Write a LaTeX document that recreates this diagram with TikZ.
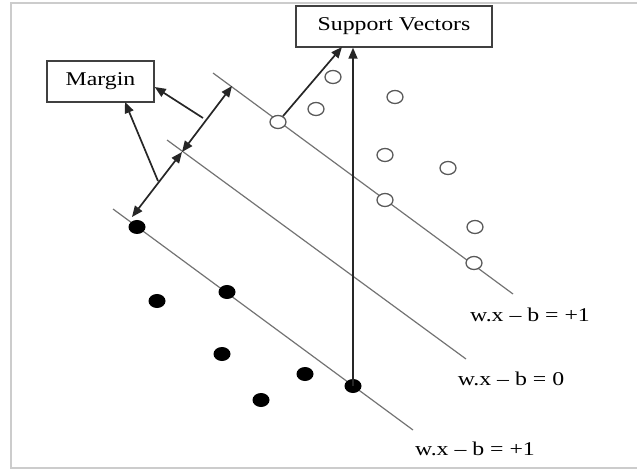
\documentclass[tikz,border=0pt]{standalone}
\usepackage{fontspec}
\usepackage{graphicx}
\setmainfont{Liberation Serif}
\usetikzlibrary{arrows.meta,shapes.geometric}
\tikzset{
  frameline/.style={draw=black!20, line width=2pt},
  hyper/.style={draw=black!55, line width=1.2pt},
  tip/.tip={Triangle[length=11pt,width=9pt]},
  arr/.style={draw=black!85, line width=1.7pt, -tip},
  darr/.style={draw=black!85, line width=1.7pt, tip-tip},
  labelbox/.style={draw=black!75, line width=1.4pt, fill=white, inner sep=0pt},
  blackpt/.style={ellipse, fill=black, minimum width=17pt, minimum height=14pt, inner sep=0pt},
  whitept/.style={ellipse, draw=black!65, line width=1.3pt, fill=white, minimum width=16pt, minimum height=13pt, inner sep=0pt},
  eqlabel/.style={inner sep=0pt, font=\fontsize{19.5}{22}\selectfont},
}
\newcommand{\wide}[1]{\scalebox{1.22}[1]{#1}}
\begin{document}
\begin{tikzpicture}[x=1pt,y=-1pt]
\useasboundingbox (0,0) rectangle (637,470);
% frame
\draw[frameline] (637,3) -- (11,3) -- (11,468) -- (637,468);
% hyperplanes
\coordinate (t1) at (213,73);  \coordinate (t2) at (513,294);
\coordinate (m1) at (167,140); \coordinate (m2) at (466,359);
\coordinate (b1) at (113,209); \coordinate (b2) at (413,430);
\draw[hyper] (t1) -- (t2);
\draw[hyper] (m1) -- (m2);
\draw[hyper] (b1) -- (b2);
% boxes
\node[labelbox, minimum width=107pt, minimum height=41pt] (margin) at (100.5,81.5) {\fontsize{19.5}{22}\selectfont\wide{Margin}};
\node[labelbox, minimum width=196pt, minimum height=41pt] (sv) at (394,26.5) {\fontsize{19.5}{22}\selectfont\wide{Support Vectors}};
% black points
\node[blackpt] (k1) at (137,227) {};
\node[blackpt] (k2) at (227,292) {};
\node[blackpt] (k3) at (157,301) {};
\node[blackpt] (k4) at (222,354) {};
\node[blackpt] (k5) at (305,374) {};
\node[blackpt] (k6) at (261,400) {};
\node[blackpt] (k7) at (353,386) {};
% white points
\node[whitept] (w1) at (278,122) {};
\node[whitept] (w2) at (333,77) {};
\node[whitept] (w3) at (316,109) {};
\node[whitept] (w4) at (395,97) {};
\node[whitept] (w5) at (385,155) {};
\node[whitept] (w6) at (448,168) {};
\node[whitept] (w7) at (385,200) {};
\node[whitept] (w8) at (475,227) {};
\node[whitept] (w9) at (474,263) {};
% labels
\node[eqlabel] (e1) at (530,315) {\wide{w.x -- b = +1}};
\node[eqlabel] (e0) at (511,379) {\wide{w.x -- b = 0}};
\node[eqlabel] (e2) at (475,449) {\wide{w.x -- b = +1}};
% support-vector arrows
\draw[arr] (k7.center) -- (k7.center |- sv.south);
\coordinate (svin) at (342,47);
\draw[arr] (w1) -- (svin);
% margin arrows
\coordinate (pb) at (132,217);
\coordinate (pm) at (182,152);
\coordinate (pt) at (232,86);
\draw[darr] (pm) -- (pb);
\draw[darr] (pm) -- (pt);
\coordinate (s1) at (158,181);
\coordinate (s2) at (203,118);
\draw[arr] (s1) -- (125,102) coordinate (mb);
\draw[arr] (s2) -- (margin.east |- 0,87);
\end{tikzpicture}
\end{document}
